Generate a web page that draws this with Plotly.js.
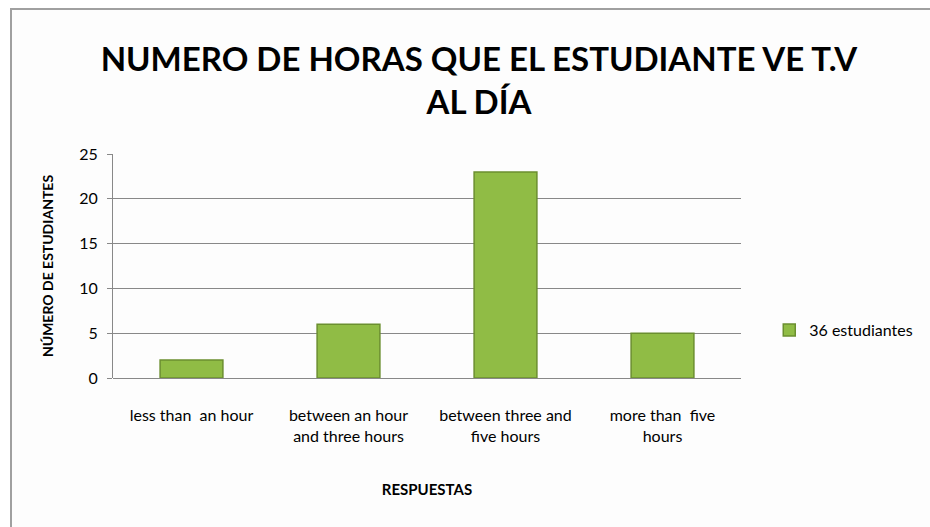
<!DOCTYPE html>
<html>
<head>
<meta charset="utf-8">
<script src="https://cdn.plot.ly/plotly-3.0.1.min.js"></script>
<style>
html,body{margin:0;padding:0;background:#fff;}
#frame{position:absolute;left:10px;top:8px;width:940px;height:540px;border-left:2px solid #a0a0a0;border-top:2px solid #a0a0a0;background:#fdfdfd;}
#chart{position:absolute;left:0;top:0;width:930px;height:527px;}
</style>
</head>
<body>
<div id="frame"></div>
<div id="chart"></div>
<script>
const categories = ["less than  an hour", "between an hour<br>and three hours", "between three and<br>five hours", "more than  five<br>hours"];
const values = [2, 6, 23, 5];
const seriesName = "36 estudiantes";
const yTicks = [0, 5, 10, 15, 20, 25];

const fontFam = 'Lato, "Open Sans", sans-serif';

const trace = {
  type: 'bar',
  x: categories,
  y: values,
  name: seriesName,
  marker: {color: '#90bc45', line: {color: '#6b8f2f', width: 1.5}},
  showlegend: true
};

const layout = {
  width: 930, height: 527,
  paper_bgcolor: 'rgba(0,0,0,0)',
  plot_bgcolor: 'rgba(0,0,0,0)',
  margin: {l: 113, r: 178, t: 154, b: 149},
  bargap: 0.6,
  title: {
    text: 'NUMERO DE HORAS QUE EL ESTUDIANTE VE T.V<br>AL DÍA',
    font: {family: fontFam, size: 33, color: '#000', weight: 'bold'},
    x: 0.515, xanchor: 'center', y: 0.866, yanchor: 'middle', yref: 'container'
  },
  xaxis: {
    showgrid: false,
    showline: false,
    ticks: '',
    ticklabelstandoff: 26,
    tickfont: {family: fontFam, size: 16, color: '#000'},
    title: {text: 'RESPUESTAS', font: {family: fontFam, size: 15, color: '#000', weight: 'bold'}, standoff: 40}
  },
  yaxis: {
    range: [0, 25],
    tickvals: yTicks,
    showgrid: true, gridcolor: '#888', gridwidth: 1,
    showline: true, linecolor: '#888', linewidth: 1,
    ticks: 'outside', ticklen: 5, tickcolor: '#888',
    ticklabelstandoff: 6,
    zeroline: true, zerolinecolor: '#888', zerolinewidth: 1,
    tickfont: {family: fontFam, size: 16, color: '#000'},
    title: {text: 'NÚMERO DE ESTUDIANTES', font: {family: fontFam, size: 14, color: '#000', weight: 'bold'}, standoff: 22}
  },
  legend: {
    x: 1.045, y: 0.214, xanchor: 'left', yanchor: 'middle',
    font: {family: fontFam, size: 16, color: '#000'},
    itemwidth: 30
  },
  showlegend: true
};

Plotly.newPlot('chart', [trace], layout, {displayModeBar: false});
</script>
</body>
</html>
